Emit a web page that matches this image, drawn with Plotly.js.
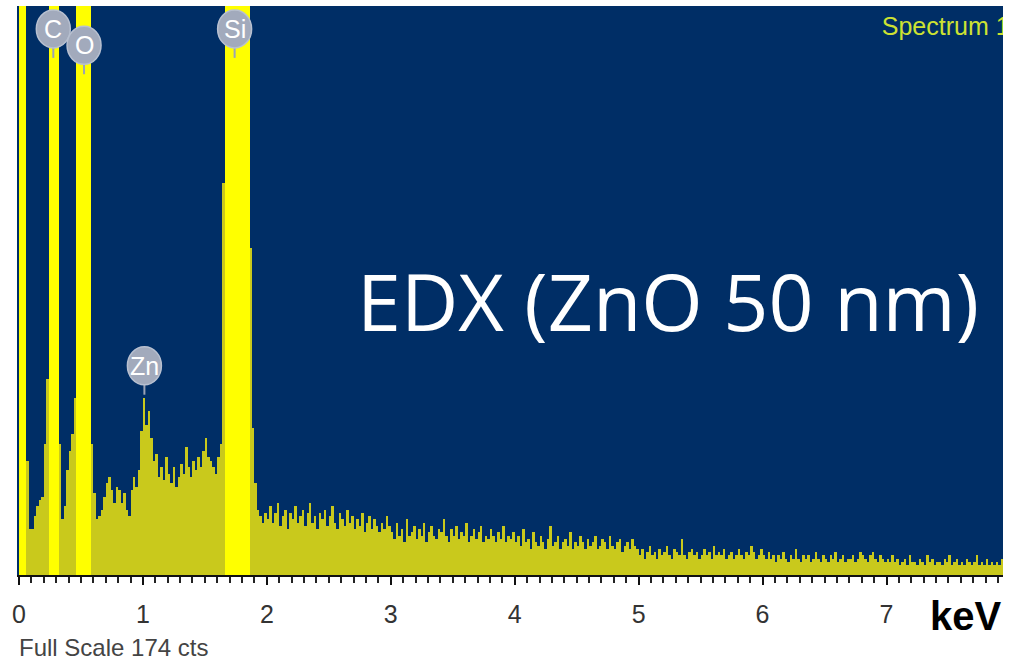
<!DOCTYPE html>
<html>
<head>
<meta charset="utf-8">
<script src="https://cdn.plot.ly/plotly-3.0.1.min.js"></script>
<style>
  html, body { margin: 0; padding: 0; background: #ffffff; }
  #chart { width: 1010px; height: 665px; }
</style>
</head>
<body>
<div id="chart"></div>
<script>
// EDX spectrum of a 50 nm ZnO film: counts per 20 eV channel.
// Channels whose counts run past the full scale (174 cts) are the C, O and Si lines
// and the low-energy noise peak; they are drawn clipped at the top of the frame.
const channelWidthKeV = 0.02;
const fullScaleCounts = 174;

const counts0to1keV = [
  300, 300, 300, 35, 14, 14, 18, 21, 23, 24,
  40, 60, 300, 300, 300, 300, 40, 17, 21, 32,
  38, 43, 54, 300, 300, 300, 300, 300, 300, 40,
  25, 17, 18, 20, 24, 28, 30, 26, 22, 27,
  26, 22, 25, 20, 18, 26, 30, 27, 32, 44
];
const counts1to2keV = [
  54, 46, 50, 42, 35, 37, 30, 33, 29, 36,
  31, 28, 33, 27, 30, 34, 31, 39, 33, 30,
  35, 32, 36, 33, 38, 42, 36, 35, 33, 31,
  36, 40, 120, 300, 300, 300, 300, 300, 300, 300,
  300, 300, 300, 100, 45, 28, 20, 18, 16, 19
];
const counts2to3keV = [
  17, 21, 16, 19, 22, 15, 18, 20, 14, 19,
  17, 21, 16, 18, 20, 15, 19, 22, 16, 18,
  14, 19, 17, 20, 15, 18, 21, 16, 14, 19,
  17, 15, 20, 16, 18, 14, 17, 15, 19, 13,
  16, 18, 14, 17, 15, 13, 16, 14, 18, 15
];
const counts3to4keV = [
  13, 11, 16, 12, 14, 10, 17, 12, 13, 15,
  11, 14, 12, 16, 10, 13, 15, 12, 11, 14,
  13, 17, 12, 10, 14, 12, 15, 11, 13, 12,
  16, 10, 12, 14, 11, 13, 15, 10, 12, 11,
  14, 12, 10, 13, 11, 15, 10, 12, 11, 13
];
const counts4to5keV = [
  10, 12, 9, 14, 10, 11, 8, 13, 10, 9,
  12, 10, 8, 11, 15, 9, 10, 12, 8, 10,
  11, 9, 13, 8, 10, 9, 12, 10, 8, 11,
  9, 10, 12, 8, 9, 11, 10, 8, 12, 9,
  8, 10, 11, 7, 9, 10, 8, 11, 9, 8
];
const counts5to6keV = [
  6, 8, 5, 7, 9, 6, 7, 5, 8, 6,
  7, 9, 6, 5, 8, 7, 6, 11, 6, 5,
  7, 8, 6, 7, 5, 6, 8, 6, 7, 5,
  9, 6, 7, 6, 8, 5, 6, 7, 5, 6,
  8, 6, 5, 7, 6, 9, 7, 5, 6, 8
];
const counts6to7keV = [
  6, 5, 7, 5, 6, 4, 6, 5, 7, 5,
  4, 6, 5, 8, 5, 4, 6, 5, 6, 4,
  5, 7, 5, 4, 6, 5, 4, 6, 5, 7,
  4, 5, 6, 4, 5, 5, 6, 4, 5, 7,
  6, 5, 4, 6, 7, 5, 4, 6, 5, 4
];
const counts7to8keV = [
  5, 4, 6, 4, 5, 3, 4, 5, 3, 6,
  4, 4, 3, 5, 4, 3, 6, 4, 5, 3,
  4, 4, 3, 5, 4, 6, 3, 4, 5, 3,
  4, 3, 5, 4, 3, 4, 6, 3, 4, 3,
  5, 3, 4, 3, 4, 3, 5, 3, 4, 3
];

// Element markers (line energies in keV)
const elementNames = ['C', 'O', 'Zn', 'Si'];
const elementEnergies = [0.277, 0.525, 1.012, 1.740];

const tickValues = [0, 1, 2, 3, 4, 5, 6, 7];
const tickLabels = ['0', '1', '2', '3', '4', '5', '6', '7'];

// ---- drawing ----
const counts = [].concat(counts0to1keV, counts1to2keV, counts2to3keV, counts3to4keV,
                         counts4to5keV, counts5to6keV, counts6to7keV, counts7to8keV);
const energies = counts.map((_, i) => (i + 0.5) * channelWidthKeV);

const peakYellow = '#ffff00';
const noiseYellow = '#c9c91c';
const barColors = counts.map(v => v > fullScaleCounts ? peakYellow : noiseYellow);

const spectrum = {
  type: 'bar',
  x: energies,
  y: counts,
  width: channelWidthKeV,
  marker: { color: barColors, line: { width: 0 } },
  hoverinfo: 'x+y',
  showlegend: false
};

// Spectrum name inside the frame, clipped by the plot area
const spectrumName = {
  type: 'scatter',
  mode: 'text',
  x: [6.962],
  y: [167],
  text: ['Spectrum 1'],
  textposition: 'middle right',
  textfont: { family: 'Liberation Sans, Arial, sans-serif', size: 25, color: '#cde232' },
  cliponaxis: true,
  hoverinfo: 'skip',
  showlegend: false
};

// Balloon heights (counts) for each element label
const balloonHeights = { C: 167, O: 162, Zn: 64, Si: 167 };

const shapes = [];
const annotations = [];
elementNames.forEach((name, i) => {
  const ex = elementEnergies[i];
  const ey = balloonHeights[name];
  // stem
  shapes.push({
    type: 'line', xref: 'x', yref: 'y',
    xsizemode: 'pixel', ysizemode: 'pixel',
    xanchor: ex, yanchor: ey,
    x0: 0, x1: 0, y0: -16, y1: -29,
    line: { color: '#9aa3b6', width: 2 }
  });
  // balloon
  shapes.push({
    type: 'circle', xref: 'x', yref: 'y',
    xsizemode: 'pixel', ysizemode: 'pixel',
    xanchor: ex, yanchor: ey,
    x0: -17, x1: 17, y0: -19, y1: 19,
    fillcolor: '#a2aabc',
    line: { color: '#b8c0d0', width: 1.5 }
  });
  annotations.push({
    xref: 'x', yref: 'y', x: ex, y: ey,
    text: name, showarrow: false,
    xanchor: 'center', yanchor: 'middle',
    font: { family: 'Liberation Sans, Arial, sans-serif', size: 25, color: '#ffffff' }
  });
});

annotations.push({
  xref: 'paper', yref: 'paper', x: 0.66, y: 0.482,
  text: 'EDX (ZnO 50 nm)', showarrow: false,
  xanchor: 'center', yanchor: 'middle',
  font: { family: 'Open Sans, Noto Sans, sans-serif', size: 79, color: '#ffffff' }
});
annotations.push({
  xref: 'paper', yref: 'paper', x: 0, y: -0.128,
  text: 'Full Scale 174 cts', showarrow: false,
  xanchor: 'left', yanchor: 'middle',
  font: { family: 'Liberation Sans, Arial, sans-serif', size: 24, color: '#444444' }
});
annotations.push({
  xref: 'paper', yref: 'paper', x: 0.9995, y: -0.072,
  text: '<b>keV</b>', showarrow: false,
  xanchor: 'right', yanchor: 'middle',
  font: { family: 'Liberation Sans, Arial, sans-serif', size: 40, color: '#000000' }
});

const layout = {
  width: 1010,
  height: 665,
  margin: { l: 17, r: 7, t: 6, b: 90, pad: 0 },
  paper_bgcolor: '#ffffff',
  plot_bgcolor: '#002e66',
  bargap: 0,
  showlegend: false,
  xaxis: {
    range: [-0.016, 7.94],
    tickmode: 'array',
    tickvals: tickValues,
    ticktext: tickLabels,
    ticks: 'outside',
    ticklen: 8,
    tickwidth: 2,
    tickcolor: '#111111',
    minor: { dtick: 0.1, ticks: 'outside', ticklen: 6, tickwidth: 2, tickcolor: '#222222' },
    showline: true,
    linecolor: '#111111',
    linewidth: 2,
    showgrid: false,
    zeroline: false,
    ticklabelstandoff: 8,
    tickfont: { family: 'Liberation Sans, Arial, sans-serif', size: 25, color: '#333333' }
  },
  yaxis: {
    range: [0, fullScaleCounts],
    visible: false,
    showgrid: false,
    zeroline: false,
    fixedrange: true
  },
  shapes: shapes,
  annotations: annotations
};

Plotly.newPlot('chart', [spectrum, spectrumName], layout, { displayModeBar: false, staticPlot: true });
</script>
</body>
</html>
